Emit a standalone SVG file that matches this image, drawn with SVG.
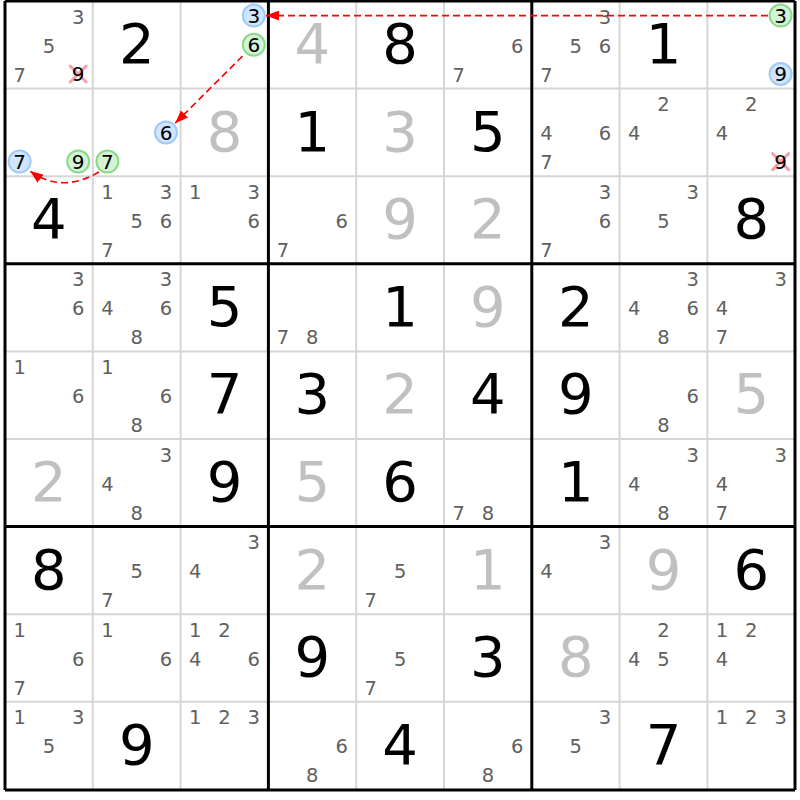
<svg xmlns="http://www.w3.org/2000/svg" width="800" height="800" viewBox="0 0 800 800">
<style>
text{font-family:"DejaVu Sans","Noto Sans",sans-serif;text-anchor:middle}
.g{font-size:56px;fill:#000}
.s{font-size:56px;fill:#c0c0c0}
.c{font-size:19.5px;fill:#606060}
.h{font-size:20px;fill:#000}
.thin{stroke:#d6d6d6;stroke-width:2}
.thick{stroke:#000;stroke-width:3}
.cb{fill:#d0e6ff;stroke:#9fcaf5;stroke-width:2}
.cg{fill:#d4f2d4;stroke:#8ad88a;stroke-width:2}
.x{stroke:#f4a0a8;stroke-width:3;stroke-linecap:round}
.link{fill:none;stroke:#ff0000;stroke-width:1.6;stroke-dasharray:7,4}
</style>
<defs>
<marker id="ah" markerUnits="userSpaceOnUse" markerWidth="14" markerHeight="10" refX="13" refY="5" orient="auto">
<path d="M0,0 L13,5 L0,10 Z" fill="#ff0000"/>
</marker>
</defs>
<rect width="800" height="800" fill="#fff"/>
<g id="grid">
<path class="thin" d="M92.8,1V790M180.6,1V790M356.2,1V790M444,1V790M619.6,1V790M707.4,1V790M5,88.6H795M5,176.2H795M5,351.4H795M5,439H795M5,614.2H795M5,701.8H795"/>
<path class="thick" d="M5,1V790M268.4,1V790M531.8,1V790M795,1V790M5,1H795M5,263.8H795M5,526.6H795M5,790H795"/>
</g>
<!-- row 0 -->
<g id="r0c0" transform="translate(5,1)"><text class="c" x="73.2" y="22.5">3</text><text class="c" x="43.9" y="51.5">5</text><text class="c" x="14.6" y="80.5">7</text><path class="x" d="M65.2,65 L81.2,81 M81.2,65 L65.2,81"/><text class="h" x="73.2" y="80.3">9</text></g>
<g id="r0c1" transform="translate(92.8,1)"><text class="g" x="43.9" y="62">2</text></g>
<g id="r0c2" transform="translate(180.6,1)"><circle class="cb" cx="73.2" cy="14.6" r="11"/><text class="h" x="73.2" y="21.9">3</text><circle class="cg" cx="73.2" cy="43.8" r="11"/><text class="h" x="73.2" y="51.1">6</text></g>
<g id="r0c3" transform="translate(268.4,1)"><text class="s" x="43.9" y="62">4</text></g>
<g id="r0c4" transform="translate(356.2,1)"><text class="g" x="43.9" y="62">8</text></g>
<g id="r0c5" transform="translate(444,1)"><text class="c" x="73.2" y="51.5">6</text><text class="c" x="14.6" y="80.5">7</text></g>
<g id="r0c6" transform="translate(531.8,1)"><text class="c" x="73.2" y="22.5">3</text><text class="c" x="43.9" y="51.5">5</text><text class="c" x="73.2" y="51.5">6</text><text class="c" x="14.6" y="80.5">7</text></g>
<g id="r0c7" transform="translate(619.6,1)"><text class="g" x="43.9" y="62">1</text></g>
<g id="r0c8" transform="translate(707.4,1)"><circle class="cg" cx="73.2" cy="14.6" r="11"/><text class="h" x="73.2" y="21.9">3</text><circle class="cb" cx="73.2" cy="73" r="11"/><text class="h" x="73.2" y="80.3">9</text></g>
<!-- row 1 -->
<g id="r1c0" transform="translate(5,88.6)"><circle class="cb" cx="14.6" cy="73" r="11"/><text class="h" x="14.6" y="80.3">7</text><circle class="cg" cx="73.2" cy="73" r="11"/><text class="h" x="73.2" y="80.3">9</text></g>
<g id="r1c1" transform="translate(92.8,88.6)"><circle class="cb" cx="73.2" cy="43.8" r="11"/><text class="h" x="73.2" y="51.1">6</text><circle class="cg" cx="14.6" cy="73" r="11"/><text class="h" x="14.6" y="80.3">7</text></g>
<g id="r1c2" transform="translate(180.6,88.6)"><text class="s" x="43.9" y="62">8</text></g>
<g id="r1c3" transform="translate(268.4,88.6)"><text class="g" x="43.9" y="62">1</text></g>
<g id="r1c4" transform="translate(356.2,88.6)"><text class="s" x="43.9" y="62">3</text></g>
<g id="r1c5" transform="translate(444,88.6)"><text class="g" x="43.9" y="62">5</text></g>
<g id="r1c6" transform="translate(531.8,88.6)"><text class="c" x="14.6" y="51.5">4</text><text class="c" x="73.2" y="51.5">6</text><text class="c" x="14.6" y="80.5">7</text></g>
<g id="r1c7" transform="translate(619.6,88.6)"><text class="c" x="43.9" y="22.5">2</text><text class="c" x="14.6" y="51.5">4</text></g>
<g id="r1c8" transform="translate(707.4,88.6)"><text class="c" x="43.9" y="22.5">2</text><text class="c" x="14.6" y="51.5">4</text><path class="x" d="M65.2,65 L81.2,81 M81.2,65 L65.2,81"/><text class="h" x="73.2" y="80.3">9</text></g>
<!-- row 2 -->
<g id="r2c0" transform="translate(5,176.2)"><text class="g" x="43.9" y="62">4</text></g>
<g id="r2c1" transform="translate(92.8,176.2)"><text class="c" x="14.6" y="22.5">1</text><text class="c" x="73.2" y="22.5">3</text><text class="c" x="43.9" y="51.5">5</text><text class="c" x="73.2" y="51.5">6</text><text class="c" x="14.6" y="80.5">7</text></g>
<g id="r2c2" transform="translate(180.6,176.2)"><text class="c" x="14.6" y="22.5">1</text><text class="c" x="73.2" y="22.5">3</text><text class="c" x="73.2" y="51.5">6</text></g>
<g id="r2c3" transform="translate(268.4,176.2)"><text class="c" x="73.2" y="51.5">6</text><text class="c" x="14.6" y="80.5">7</text></g>
<g id="r2c4" transform="translate(356.2,176.2)"><text class="s" x="43.9" y="62">9</text></g>
<g id="r2c5" transform="translate(444,176.2)"><text class="s" x="43.9" y="62">2</text></g>
<g id="r2c6" transform="translate(531.8,176.2)"><text class="c" x="73.2" y="22.5">3</text><text class="c" x="73.2" y="51.5">6</text><text class="c" x="14.6" y="80.5">7</text></g>
<g id="r2c7" transform="translate(619.6,176.2)"><text class="c" x="73.2" y="22.5">3</text><text class="c" x="43.9" y="51.5">5</text></g>
<g id="r2c8" transform="translate(707.4,176.2)"><text class="g" x="43.9" y="62">8</text></g>
<!-- row 3 -->
<g id="r3c0" transform="translate(5,263.8)"><text class="c" x="73.2" y="22.5">3</text><text class="c" x="73.2" y="51.5">6</text></g>
<g id="r3c1" transform="translate(92.8,263.8)"><text class="c" x="73.2" y="22.5">3</text><text class="c" x="14.6" y="51.5">4</text><text class="c" x="73.2" y="51.5">6</text><text class="c" x="43.9" y="80.5">8</text></g>
<g id="r3c2" transform="translate(180.6,263.8)"><text class="g" x="43.9" y="62">5</text></g>
<g id="r3c3" transform="translate(268.4,263.8)"><text class="c" x="14.6" y="80.5">7</text><text class="c" x="43.9" y="80.5">8</text></g>
<g id="r3c4" transform="translate(356.2,263.8)"><text class="g" x="43.9" y="62">1</text></g>
<g id="r3c5" transform="translate(444,263.8)"><text class="s" x="43.9" y="62">9</text></g>
<g id="r3c6" transform="translate(531.8,263.8)"><text class="g" x="43.9" y="62">2</text></g>
<g id="r3c7" transform="translate(619.6,263.8)"><text class="c" x="73.2" y="22.5">3</text><text class="c" x="14.6" y="51.5">4</text><text class="c" x="73.2" y="51.5">6</text><text class="c" x="43.9" y="80.5">8</text></g>
<g id="r3c8" transform="translate(707.4,263.8)"><text class="c" x="73.2" y="22.5">3</text><text class="c" x="14.6" y="51.5">4</text><text class="c" x="14.6" y="80.5">7</text></g>
<!-- row 4 -->
<g id="r4c0" transform="translate(5,351.4)"><text class="c" x="14.6" y="22.5">1</text><text class="c" x="73.2" y="51.5">6</text></g>
<g id="r4c1" transform="translate(92.8,351.4)"><text class="c" x="14.6" y="22.5">1</text><text class="c" x="73.2" y="51.5">6</text><text class="c" x="43.9" y="80.5">8</text></g>
<g id="r4c2" transform="translate(180.6,351.4)"><text class="g" x="43.9" y="62">7</text></g>
<g id="r4c3" transform="translate(268.4,351.4)"><text class="g" x="43.9" y="62">3</text></g>
<g id="r4c4" transform="translate(356.2,351.4)"><text class="s" x="43.9" y="62">2</text></g>
<g id="r4c5" transform="translate(444,351.4)"><text class="g" x="43.9" y="62">4</text></g>
<g id="r4c6" transform="translate(531.8,351.4)"><text class="g" x="43.9" y="62">9</text></g>
<g id="r4c7" transform="translate(619.6,351.4)"><text class="c" x="73.2" y="51.5">6</text><text class="c" x="43.9" y="80.5">8</text></g>
<g id="r4c8" transform="translate(707.4,351.4)"><text class="s" x="43.9" y="62">5</text></g>
<!-- row 5 -->
<g id="r5c0" transform="translate(5,439)"><text class="s" x="43.9" y="62">2</text></g>
<g id="r5c1" transform="translate(92.8,439)"><text class="c" x="73.2" y="22.5">3</text><text class="c" x="14.6" y="51.5">4</text><text class="c" x="43.9" y="80.5">8</text></g>
<g id="r5c2" transform="translate(180.6,439)"><text class="g" x="43.9" y="62">9</text></g>
<g id="r5c3" transform="translate(268.4,439)"><text class="s" x="43.9" y="62">5</text></g>
<g id="r5c4" transform="translate(356.2,439)"><text class="g" x="43.9" y="62">6</text></g>
<g id="r5c5" transform="translate(444,439)"><text class="c" x="14.6" y="80.5">7</text><text class="c" x="43.9" y="80.5">8</text></g>
<g id="r5c6" transform="translate(531.8,439)"><text class="g" x="43.9" y="62">1</text></g>
<g id="r5c7" transform="translate(619.6,439)"><text class="c" x="73.2" y="22.5">3</text><text class="c" x="14.6" y="51.5">4</text><text class="c" x="43.9" y="80.5">8</text></g>
<g id="r5c8" transform="translate(707.4,439)"><text class="c" x="73.2" y="22.5">3</text><text class="c" x="14.6" y="51.5">4</text><text class="c" x="14.6" y="80.5">7</text></g>
<!-- row 6 -->
<g id="r6c0" transform="translate(5,526.6)"><text class="g" x="43.9" y="62">8</text></g>
<g id="r6c1" transform="translate(92.8,526.6)"><text class="c" x="43.9" y="51.5">5</text><text class="c" x="14.6" y="80.5">7</text></g>
<g id="r6c2" transform="translate(180.6,526.6)"><text class="c" x="73.2" y="22.5">3</text><text class="c" x="14.6" y="51.5">4</text></g>
<g id="r6c3" transform="translate(268.4,526.6)"><text class="s" x="43.9" y="62">2</text></g>
<g id="r6c4" transform="translate(356.2,526.6)"><text class="c" x="43.9" y="51.5">5</text><text class="c" x="14.6" y="80.5">7</text></g>
<g id="r6c5" transform="translate(444,526.6)"><text class="s" x="43.9" y="62">1</text></g>
<g id="r6c6" transform="translate(531.8,526.6)"><text class="c" x="73.2" y="22.5">3</text><text class="c" x="14.6" y="51.5">4</text></g>
<g id="r6c7" transform="translate(619.6,526.6)"><text class="s" x="43.9" y="62">9</text></g>
<g id="r6c8" transform="translate(707.4,526.6)"><text class="g" x="43.9" y="62">6</text></g>
<!-- row 7 -->
<g id="r7c0" transform="translate(5,614.2)"><text class="c" x="14.6" y="22.5">1</text><text class="c" x="73.2" y="51.5">6</text><text class="c" x="14.6" y="80.5">7</text></g>
<g id="r7c1" transform="translate(92.8,614.2)"><text class="c" x="14.6" y="22.5">1</text><text class="c" x="73.2" y="51.5">6</text></g>
<g id="r7c2" transform="translate(180.6,614.2)"><text class="c" x="14.6" y="22.5">1</text><text class="c" x="43.9" y="22.5">2</text><text class="c" x="14.6" y="51.5">4</text><text class="c" x="73.2" y="51.5">6</text></g>
<g id="r7c3" transform="translate(268.4,614.2)"><text class="g" x="43.9" y="62">9</text></g>
<g id="r7c4" transform="translate(356.2,614.2)"><text class="c" x="43.9" y="51.5">5</text><text class="c" x="14.6" y="80.5">7</text></g>
<g id="r7c5" transform="translate(444,614.2)"><text class="g" x="43.9" y="62">3</text></g>
<g id="r7c6" transform="translate(531.8,614.2)"><text class="s" x="43.9" y="62">8</text></g>
<g id="r7c7" transform="translate(619.6,614.2)"><text class="c" x="43.9" y="22.5">2</text><text class="c" x="14.6" y="51.5">4</text><text class="c" x="43.9" y="51.5">5</text></g>
<g id="r7c8" transform="translate(707.4,614.2)"><text class="c" x="14.6" y="22.5">1</text><text class="c" x="43.9" y="22.5">2</text><text class="c" x="14.6" y="51.5">4</text></g>
<!-- row 8 -->
<g id="r8c0" transform="translate(5,701.8)"><text class="c" x="14.6" y="22.5">1</text><text class="c" x="73.2" y="22.5">3</text><text class="c" x="43.9" y="51.5">5</text></g>
<g id="r8c1" transform="translate(92.8,701.8)"><text class="g" x="43.9" y="62">9</text></g>
<g id="r8c2" transform="translate(180.6,701.8)"><text class="c" x="14.6" y="22.5">1</text><text class="c" x="43.9" y="22.5">2</text><text class="c" x="73.2" y="22.5">3</text></g>
<g id="r8c3" transform="translate(268.4,701.8)"><text class="c" x="73.2" y="51.5">6</text><text class="c" x="43.9" y="80.5">8</text></g>
<g id="r8c4" transform="translate(356.2,701.8)"><text class="g" x="43.9" y="62">4</text></g>
<g id="r8c5" transform="translate(444,701.8)"><text class="c" x="73.2" y="51.5">6</text><text class="c" x="43.9" y="80.5">8</text></g>
<g id="r8c6" transform="translate(531.8,701.8)"><text class="c" x="73.2" y="22.5">3</text><text class="c" x="43.9" y="51.5">5</text></g>
<g id="r8c7" transform="translate(619.6,701.8)"><text class="g" x="43.9" y="62">7</text></g>
<g id="r8c8" transform="translate(707.4,701.8)"><text class="c" x="14.6" y="22.5">1</text><text class="c" x="43.9" y="22.5">2</text><text class="c" x="73.2" y="22.5">3</text></g>
<g id="connectors">
<path class="link" d="M768,15.6 H266" marker-end="url(#ah)"/>
<path class="link" d="M242.5,56.1 L175.2,123.2" marker-end="url(#ah)"/>
<path class="link" d="M99,172 Q62,194 30,171" marker-end="url(#ah)"/>
</g>
</svg>
